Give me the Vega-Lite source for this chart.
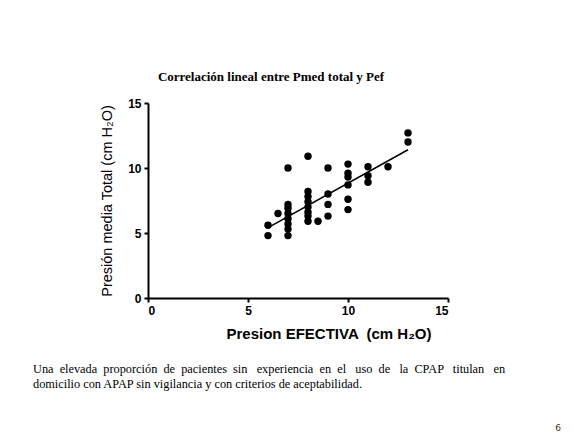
{
  "$schema": "https://vega.github.io/schema/vega-lite/v6.json",
  "background": "white",
  "autosize": {"type": "pad"},
  "padding": {"left": 33, "top": 71, "right": 0, "bottom": 0},
  "bounds": "flush",
  "spacing": 124,
  "datasets": {
    "points": [
      {"pef": 6, "pmed": 5.6}, {"pef": 6, "pmed": 4.8},
      {"pef": 6.5, "pmed": 6.5},
      {"pef": 7, "pmed": 10.0}, {"pef": 7, "pmed": 7.2}, {"pef": 7, "pmed": 6.9}, {"pef": 7, "pmed": 6.5},
      {"pef": 7, "pmed": 6.1}, {"pef": 7, "pmed": 5.7}, {"pef": 7, "pmed": 5.3}, {"pef": 7, "pmed": 4.8},
      {"pef": 8, "pmed": 10.9}, {"pef": 8, "pmed": 8.2}, {"pef": 8, "pmed": 7.8}, {"pef": 8, "pmed": 7.4},
      {"pef": 8, "pmed": 7.0}, {"pef": 8, "pmed": 6.6}, {"pef": 8, "pmed": 6.3}, {"pef": 8, "pmed": 5.9},
      {"pef": 8.5, "pmed": 5.9},
      {"pef": 9, "pmed": 10.0}, {"pef": 9, "pmed": 8.0}, {"pef": 9, "pmed": 7.2}, {"pef": 9, "pmed": 6.3},
      {"pef": 10, "pmed": 10.3}, {"pef": 10, "pmed": 9.6}, {"pef": 10, "pmed": 9.3}, {"pef": 10, "pmed": 8.7},
      {"pef": 10, "pmed": 7.6}, {"pef": 10, "pmed": 6.8},
      {"pef": 11, "pmed": 10.1}, {"pef": 11, "pmed": 9.4}, {"pef": 11, "pmed": 8.9},
      {"pef": 12, "pmed": 10.1},
      {"pef": 13, "pmed": 12.7}, {"pef": 13, "pmed": 12.0}
    ],
    "fit": [
      {"pef": 6.05, "pmed": 5.45},
      {"pef": 13, "pmed": 11.4}
    ],
    "page": [
      {"pos": 1, "label": "6"}
    ]
  },
  "vconcat": [
    {
      "width": 300,
      "height": 195,
      "title": {
        "text": "Correlación lineal entre Pmed total y Pef",
        "font": "Liberation Serif",
        "fontSize": 13,
        "fontWeight": "bold",
        "color": "black",
        "anchor": "middle",
        "dx": -27,
        "offset": 3,
        "baseline": "alphabetic"
      },
      "layer": [
        {
          "data": {"name": "points"},
          "mark": {"type": "circle", "size": 55, "color": "black", "opacity": 1},
          "encoding": {
            "x": {
              "field": "pef", "type": "quantitative",
              "scale": {"domain": [0, 15], "nice": false},
              "axis": {
                "values": [0, 5, 10, 15],
                "title": "Presion EFECTIVA \u00a0(cm H₂O)",
                "titleFontSize": 15,
                "titleX": 78,
                "titleY": 40,
                "titleAlign": "left",
                "titleAnchor": null,
                "titleBaseline": "alphabetic"
              }
            },
            "y": {
              "field": "pmed", "type": "quantitative",
              "scale": {"domain": [0, 15], "nice": false},
              "axis": {
                "values": [0, 5, 10, 15],
                "title": "Presión media Total (cm H₂O)",
                "titleFontSize": 14.5,
                "titleFontWeight": "normal",
                "titlePadding": 13
              }
            }
          }
        },
        {
          "data": {"name": "fit"},
          "mark": {"type": "line", "color": "black", "strokeWidth": 1.6},
          "encoding": {
            "x": {"field": "pef", "type": "quantitative"},
            "y": {"field": "pmed", "type": "quantitative"}
          }
        }
      ]
    },
    {
      "width": 410,
      "height": 8,
      "title": {
        "text": [
          "Una \u00a0elevada \u00a0proporción \u00a0de \u00a0pacientes \u00a0sin \u00a0\u00a0experiencia \u00a0en \u00a0el \u00a0\u00a0uso \u00a0de \u00a0\u00a0la \u00a0CPAP \u00a0\u00a0titulan \u00a0\u00a0en",
          "domicilio con APAP sin vigilancia y con criterios de aceptabilidad."
        ],
        "anchor": "start",
        "dx": -115,
        "font": "Liberation Serif",
        "fontSize": 12.3,
        "fontWeight": "normal",
        "color": "black",
        "lineHeight": 15,
        "baseline": "bottom",
        "offset": 19
      },
      "data": {"name": "page"},
      "mark": {"type": "text", "font": "DejaVu Sans", "fontSize": 9, "color": "#333333", "align": "center", "baseline": "middle", "dy": 2},
      "encoding": {
        "x": {"field": "pos", "type": "quantitative", "scale": {"domain": [0, 1]}, "axis": null},
        "text": {"field": "label"}
      }
    }
  ],
  "config": {
    "view": {"stroke": null},
    "axis": {
      "grid": false,
      "domainColor": "black",
      "domainWidth": 2,
      "tickColor": "black",
      "tickWidth": 2,
      "tickSize": 4,
      "labelFont": "Liberation Sans",
      "labelFontSize": 12,
      "labelFontWeight": "bold",
      "labelColor": "black",
      "labelPadding": 3,
      "titleFont": "Liberation Sans",
      "titleFontWeight": "bold",
      "titleColor": "black"
    }
  }
}
